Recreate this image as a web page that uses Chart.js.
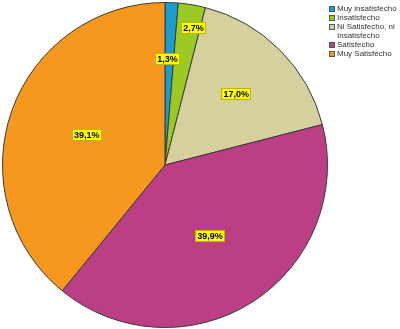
<!DOCTYPE html>
<html>
<head>
<meta charset="utf-8">
<script src="https://cdn.jsdelivr.net/npm/chart.js@4"></script>
<style>
html,body{margin:0;padding:0;background:#fff;}
#wrap{position:relative;width:400px;height:329px;}
</style>
</head>
<body>
<div id="wrap"><canvas id="c" width="400" height="329"></canvas></div>
<script>
const categories = ["Muy insatisfecho", "Insatisfecho", "Ni Satisfecho, ni Insatisfecho", "Satisfecho", "Muy Satisfecho"];
const legendLines = [["Muy insatisfecho"], ["Insatisfecho"], ["Ni Satisfecho, ni", "Insatisfecho"], ["Satisfecho"], ["Muy Satisfecho"]];
const percentages = [1.3, 2.7, 17.0, 39.9, 39.1];
const sliceColors = ["#1c9dd0", "#9bcb22", "#d6d09e", "#bc3f85", "#f7981e"];

// label placement (style): radius fraction and angle offset per slice
const labelRadiusFrac = [0.65, 0.86, 0.62, 0.515, 0.515];
const labelAngleOffsetDeg = [-1, 2.2, 0, 0, 1.3];

const fmt = v => v.toFixed(1).replace('.', ',') + '%';

const labelPlugin = {
  id: 'pctLabels',
  afterDatasetsDraw(chart) {
    const ctx = chart.ctx;
    const meta = chart.getDatasetMeta(0);
    ctx.save();
    ctx.font = 'bold 9px "Liberation Sans", Arial, sans-serif';
    ctx.textAlign = 'center';
    ctx.textBaseline = 'middle';
    meta.data.forEach((arc, i) => {
      const p = arc.getProps(['x', 'y', 'startAngle', 'endAngle', 'outerRadius'], true);
      const mid = (p.startAngle + p.endAngle) / 2 + labelAngleOffsetDeg[i] * Math.PI / 180;
      const r = p.outerRadius * labelRadiusFrac[i];
      const x = p.x + Math.cos(mid) * r;
      const y = p.y + Math.sin(mid) * r;
      const txt = fmt(percentages[i]);
      const w = ctx.measureText(txt).width + 4;
      const h = 12;
      ctx.fillStyle = '#ffff00';
      ctx.fillRect(Math.round(x - w / 2), Math.round(y - h / 2), Math.round(w), h);
      ctx.strokeStyle = '#b8b800';
      ctx.lineWidth = 1;
      ctx.strokeRect(Math.round(x - w / 2) + 0.5, Math.round(y - h / 2) + 0.5, Math.round(w) - 1, h - 1);
      ctx.fillStyle = '#000';
      ctx.fillText(txt, x, y + 0.5);
    });
    ctx.restore();
  }
};

const legendPlugin = {
  id: 'sideLegend',
  afterDraw(chart) {
    const ctx = chart.ctx;
    ctx.save();
    ctx.font = '8px "Liberation Sans", Arial, sans-serif';
    ctx.textAlign = 'left';
    ctx.textBaseline = 'middle';
    let y = 9;
    const lineH = 9;
    legendLines.forEach((lines, i) => {
      ctx.fillStyle = sliceColors[i];
      ctx.fillRect(329, y - 3, 6, 6);
      ctx.strokeStyle = '#555';
      ctx.lineWidth = 1;
      ctx.strokeRect(329.5, y - 2.5, 5, 5);
      ctx.fillStyle = '#333';
      lines.forEach((ln, k) => {
        ctx.fillText(ln, 337, y + k * lineH);
      });
      y += lines.length * lineH;
    });
    ctx.restore();
  }
};

new Chart(document.getElementById('c'), {
  type: 'pie',
  data: {
    labels: categories,
    datasets: [{
      data: percentages,
      backgroundColor: sliceColors,
      borderColor: '#3a3a3a',
      borderWidth: 1
    }]
  },
  options: {
    responsive: false,
    animation: false,
    layout: { padding: { left: 2, top: 2, right: 72, bottom: 1 } },
    plugins: {
      legend: { display: false },
      tooltip: { enabled: false }
    }
  },
  plugins: [labelPlugin, legendPlugin]
});
</script>
</body>
</html>
